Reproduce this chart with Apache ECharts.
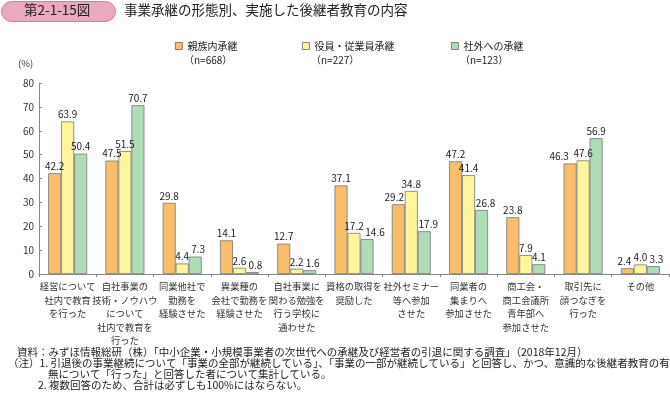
<!DOCTYPE html>
<html><head><meta charset="utf-8">
<script src="https://cdn.jsdelivr.net/npm/echarts@6/dist/echarts.min.js"></script>
<style>html,body{margin:0;padding:0;background:#fff}#c{width:670px;height:394px}</style>
</head><body><div id="c"></div>
<script>
const categories = [
  "経営について\n社内で教育\nを行った",
  "自社事業の\n技術・ノウハウ\nについて\n社内で教育を\n行った",
  "同業他社で\n勤務を\n経験させた",
  "異業種の\n会社で勤務を\n経験させた",
  "自社事業に\n関わる勉強を\n行う学校に\n通わせた",
  "資格の取得を\n奨励した",
  "社外セミナー\n等へ参加\nさせた",
  "同業者の\n集まりへ\n参加させた",
  "商工会・\n商工会議所\n青年部へ\n参加させた",
  "取引先に\n顔つなぎを\n行った",
  "その他"
];
const seriesNames = ["親族内承継", "役員・従業員承継", "社外への承継"];
const seriesN = ["（n=668）", "（n=227）", "（n=123）"];
const family = [42.2, 47.5, 29.8, 14.1, 12.7, 37.1, 29.2, 47.2, 23.8, 46.3, 2.4];
const employee = [63.9, 51.5, 4.4, 2.6, 2.2, 17.2, 34.8, 41.4, 7.9, 47.6, 4.0];
const outside = [50.4, 70.7, 7.3, 0.8, 1.6, 14.6, 17.9, 26.8, 4.1, 56.9, 3.3];
const yTicks = [0, 10, 20, 30, 40, 50, 60, 70, 80];
const titleBadge = "第2-1-15図";
const titleText = "事業承継の形態別、実施した後継者教育の内容";
const notes = [
  "資料：みずほ情報総研（株）「中小企業・小規模事業者の次世代への承継及び経営者の引退に関する調査」（2018年12月）",
  "（注）1. 引退後の事業継続について「事業の全部が継続している」、「事業の一部が継続している」と回答し、かつ、意識的な後継者教育の有",
  "無について「行った」と回答した者について集計している。",
  "2. 複数回答のため、合計は必ずしも100%にはならない。"
];

// styling (label nudges in px, per series / category) — layout only
const FONT = '"Noto Sans CJK JP", "Noto Sans", sans-serif';
const colors = ["#F8BE6C", "#FFF59E", "#AFDCB7"];
const values = [family, employee, outside];
const legendLeft = [175, 302, 451];
const labelNudge = [
  {9: -11, 10: -3, 6: -4},
  {},
  {2: 3, 3: 3, 4: 3, 5: 8, 6: 4, 7: 4, 10: 3}
];
const noteLeft = [17, 8, 48, 38];

const chart = echarts.init(document.getElementById('c'), null, {renderer: 'canvas'});
const option = {
  animation: false,
  textStyle: {fontFamily: FONT},
  grid: {left: 39, right: 1, top: 83, bottom: 120, containLabel: false},
  legend: seriesNames.map((n, i) => ({
    data: [n], left: legendLeft[i], top: 41, itemWidth: 7, itemHeight: 7,
    icon: 'rect', textStyle: {fontSize: 10, color: '#222', fontFamily: FONT},
    itemStyle: {borderColor: '#666', borderWidth: 0.8}, padding: 0, itemGap: 0
  })),
  xAxis: {
    type: 'category', data: categories,
    axisLine: {lineStyle: {color: '#888', width: 1}},
    axisTick: {show: true, length: 3, lineStyle: {color: '#888'}},
    axisLabel: {interval: 0, fontSize: 9.3, lineHeight: 13.5, color: '#333', margin: 6, fontFamily: FONT}
  },
  yAxis: {
    type: 'value', min: 0, max: 80, interval: 10,
    axisLine: {show: true, lineStyle: {color: '#888'}},
    axisTick: {show: true, inside: true, length: 3, lineStyle: {color: '#888'}},
    splitLine: {show: false},
    axisLabel: {fontSize: 10, color: '#333', margin: 5, fontFamily: FONT,
      formatter: v => yTicks.includes(v) ? String(v) : ''}
  },
  series: seriesNames.map((n, i) => ({
    name: n, type: 'bar', barWidth: 13, barGap: '0%',
    data: values[i].map((v, j) => labelNudge[i][j] !== undefined
      ? {value: v, label: {offset: [labelNudge[i][j], 0]}} : v),
    itemStyle: {color: colors[i], borderColor: '#777', borderWidth: 0.8},
    label: {show: true, position: 'top', distance: 2, fontSize: 10, color: '#222', fontFamily: FONT,
      formatter: p => p.value.toFixed(1)}
  })),
  graphic: [
    {type: 'rect', left: 1, top: 1, shape: {width: 114, height: 20, r: 10},
     style: {fill: '#E9A9C0', stroke: '#D27C9C', lineWidth: 1}},
    {type: 'text', left: 24, top: 3, style: {text: titleBadge, fontSize: 13.5, fill: '#222', fontFamily: FONT}},
    {type: 'text', left: 124, top: 3, style: {text: titleText, fontSize: 13.5, fill: '#222', fontFamily: FONT}},
    {type: 'text', left: 18, top: 59, style: {text: '(%)', fontSize: 9.5, fill: '#333', fontFamily: FONT}},
    ...seriesN.map((t, i) => ({type: 'text', left: legendLeft[i] + 9, top: 55, style: {text: t, fontSize: 10, fill: '#222', fontFamily: FONT}})),
    ...notes.map((t, i) => ({type: 'text', left: noteLeft[i], top: 347 + i * 10.8, style: {text: t, fontSize: 10.5, fill: '#222', fontFamily: FONT}}))
  ]
};
chart.setOption(option);
</script></body></html>
